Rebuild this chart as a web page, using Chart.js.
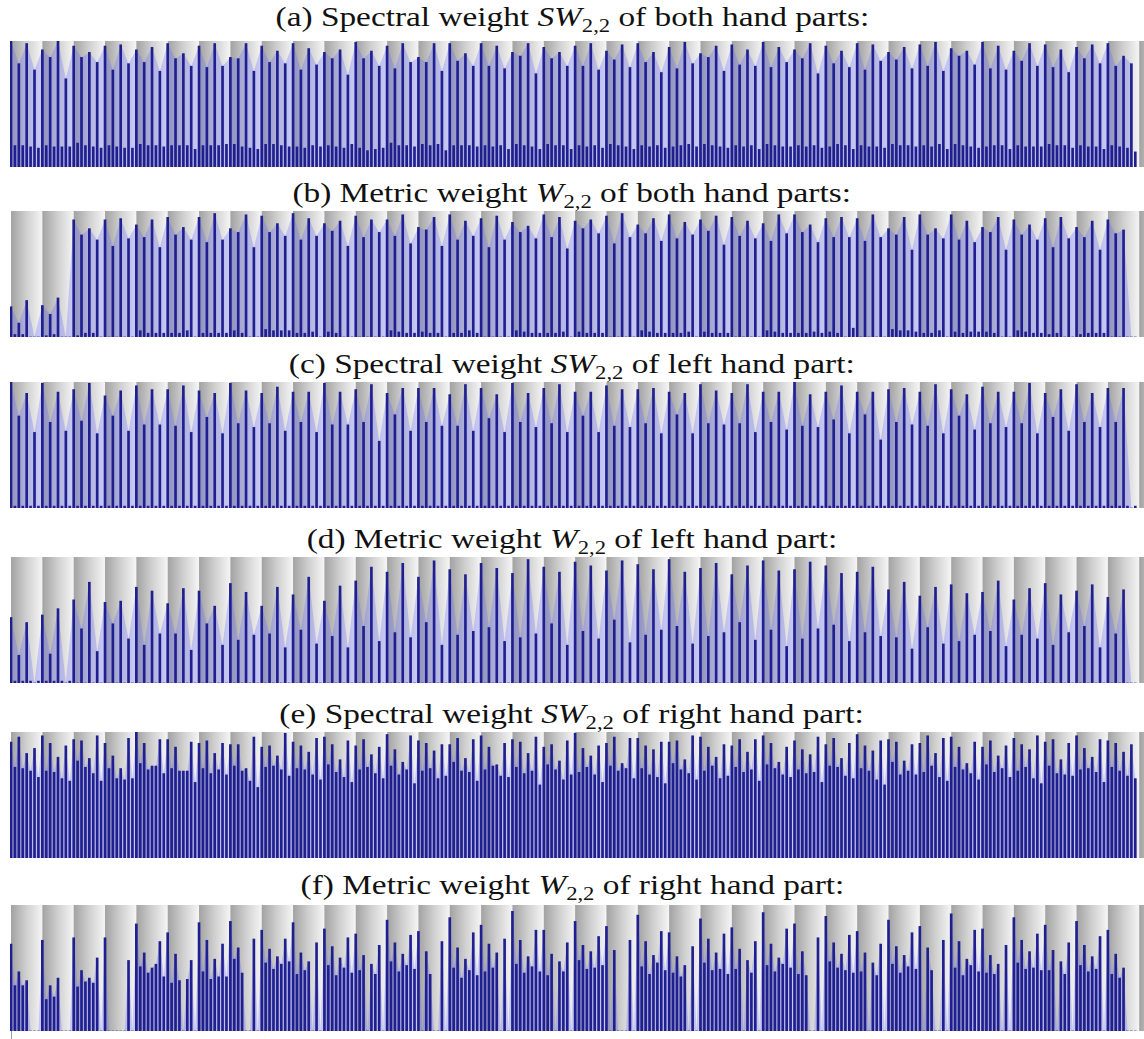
<!DOCTYPE html>
<html>
<head>
<meta charset="utf-8">
<script src="https://cdn.jsdelivr.net/npm/chart.js@4.4.0/dist/chart.umd.min.js"></script>
<style>
  body { margin: 0; background: #fff; width: 1144px; height: 1039px; position: relative; overflow: hidden; }
  .title { position: absolute; left: 0; width: 1144px; text-align: center; font-family: 'Liberation Serif', serif;
           font-size: 28px; line-height: 30px; color: #111; white-space: nowrap; }
  .title span { display: inline-block; transform: scaleX(1.19); transform-origin: 50% 50%; }
  .title sub { font-size: 19px; vertical-align: -6px; line-height: 0; }
  .plot { position: absolute; left: 10px; width: 1134px; height: 126px; }
</style>
</head>
<body>
<div class="title" style="top:2px"><span>(a) Spectral weight <i>SW</i><sub>2,2</sub> of both hand parts:</span></div>
<div class="plot" style="top:41px"><canvas id="pa" width="1134" height="126"></canvas></div>
<div class="title" style="top:178px"><span>(b) Metric weight <i>W</i><sub>2,2</sub> of both hand parts:</span></div>
<div class="plot" style="top:211px"><canvas id="pb" width="1134" height="126"></canvas></div>
<div class="title" style="top:349px"><span>(c) Spectral weight <i>SW</i><sub>2,2</sub> of left hand part:</span></div>
<div class="plot" style="top:382px"><canvas id="pc" width="1134" height="126"></canvas></div>
<div class="title" style="top:524px"><span>(d) Metric weight <i>W</i><sub>2,2</sub> of left hand part:</span></div>
<div class="plot" style="top:557px"><canvas id="pd" width="1134" height="126"></canvas></div>
<div class="title" style="top:699px"><span>(e) Spectral weight <i>SW</i><sub>2,2</sub> of right hand part:</span></div>
<div class="plot" style="top:732px"><canvas id="pe" width="1134" height="126"></canvas></div>
<div class="title" style="top:870px"><span>(f) Metric weight <i>W</i><sub>2,2</sub> of right hand part:</span></div>
<div class="plot" style="top:905px; height:134px"><canvas id="pf" width="1134" height="134"></canvas></div>

<script>
// Weights per eighth-note onset, eight onsets per bar (percent of panel maximum).
const bothSpectral = [
  100,17,82,17,98,16,77,15,  93,17,87,16,100,16,70,16,  96,19,87,17,91,16,83,15,  96,17,77,16,97,15,82,15,
  93,18,83,17,95,17,76,16,   98,17,86,17,90,17,80,14,   96,17,79,17,98,17,80,18,  87,18,86,16,98,15,76,14,
  96,18,83,18,92,17,82,16,   98,16,77,15,94,17,81,16,   91,17,86,16,93,15,73,18,  99,15,86,13,92,14,80,15,
  96,19,78,17,98,17,83,16,   87,18,83,17,98,18,76,13,   98,17,84,17,90,17,80,16,  98,17,80,16,96,17,78,14,
  91,18,88,17,98,16,74,14,   95,18,86,17,91,17,80,14,   96,17,80,16,98,17,77,15,  92,18,85,17,97,16,79,14,
  98,17,83,16,91,17,75,15,   95,16,78,17,99,18,82,16,   90,18,87,17,96,16,76,15,  97,17,81,16,93,17,80,14,
  99,18,79,17,95,16,83,16,   93,17,86,16,98,17,74,15,   96,16,82,18,92,17,79,14,  98,17,77,16,97,16,84,15,
  91,18,85,17,95,17,78,16,   97,17,80,16,99,18,76,14,   94,18,88,17,92,16,81,15,  99,16,78,17,96,17,77,14,
  92,17,84,16,98,16,80,16,   97,18,79,17,93,17,75,15,   95,17,86,16,97,16,82,14,  98,17,80,16,88,15,82,12
];
const bothMetric = [
  24,2,11,2,29,0,0,0,  25,1,18,2,31,0,0,0,  93,1,81,3,86,3,77,0,  93,0,72,0,94,0,78,0,
  89,5,79,3,93,3,71,3, 95,3,81,3,87,5,77,0, 95,3,75,3,98,3,77,3,  86,5,83,3,97,0,71,0,
  96,6,83,5,90,5,80,5, 98,3,77,3,94,4,80,0, 90,4,84,3,92,0,72,0,  96,0,79,0,93,0,83,0,
  93,5,80,4,97,3,74,3, 87,4,85,3,95,3,72,0, 97,3,77,3,92,5,80,3,  94,0,71,0,96,0,77,0,
  91,5,83,4,88,3,78,3, 97,3,79,3,95,4,70,0, 92,4,86,3,93,3,82,3,  96,0,74,0,98,0,79,0,
  89,5,82,4,94,3,76,3, 97,3,78,3,91,4,81,0, 93,4,84,3,96,3,73,3,  95,0,80,0,92,0,78,0,
  90,5,76,4,97,3,82,3, 97,3,83,3,89,4,75,3, 94,4,79,3,95,0,79,7,  94,0,76,0,97,0,79,0,
  86,6,81,5,95,5,69,4, 97,3,81,3,86,5,78,0, 97,4,77,3,92,4,75,4,  87,4,83,3,95,0,69,0,
  93,5,81,4,89,3,77,3, 94,2,71,3,95,0,78,0, 87,2,79,3,92,3,69,3,  93,0,82,0,85,0,0,0
];
const leftSpectral = [
  100,1.5,73,1.5,91,1.5,60,1.5,  99,1.5,68,1.5,92,1.5,61,1.5,  94,1.5,69,1.5,99,1.5,59,1.5,  89,1.5,73,1.5,93,1.5,61,1.5,
  97,1.5,66,1.5,94,1.5,66,1.5,   94,1.5,65,1.5,97,1.5,60,1.5,  93,1.5,72,1.5,91,1.5,59,1.5,  99,1.5,67,1.5,93,1.5,64,1.5,
  91,1.5,67,1.5,96,1.5,61,1.5,   92,1.5,68,1.5,92,1.5,60,1.5,  99,1.5,66,1.5,92,1.5,66,1.5,  94,1.5,68,1.5,98,1.5,53,1.5,
  91,1.5,74,1.5,95,1.5,61,1.5,   95,1.5,68,1.5,95,1.5,65,1.5,  90,1.5,65,1.5,98,1.5,61,1.5,  95,1.5,71,1.5,90,1.5,60,1.5,
  99,1.5,68,1.5,91,1.5,64,1.5,   95,1.5,67,1.5,98,1.5,60,1.5,  92,1.5,73,1.5,92,1.5,60,1.5,  97,1.5,65,1.5,94,1.5,64,1.5,
  94,1.5,67,1.5,95,1.5,59,1.5,   92,1.5,74,1.5,91,1.5,59,1.5,  98,1.5,67,1.5,93,1.5,66,1.5,  91,1.5,67,1.5,98,1.5,60,1.5,
  92,1.5,68,1.5,92,1.5,62,1.5,   100,1.5,65,1.5,90,1.5,64,1.5, 92,1.5,70,1.5,97,1.5,59,1.5,  92,1.5,74,1.5,92,1.5,54,1.5,
  94,1.5,68,1.5,95,1.5,66,1.5,   92,1.5,65,1.5,98,1.5,59,1.5,  94,1.5,73,1.5,90,1.5,62,1.5,  96,1.5,67,1.5,92,1.5,64,1.5,
  92,1.5,67,1.5,99,1.5,59,1.5,   91,1.5,72,1.5,94,1.5,61,1.5,  98,1.5,68,1.5,91,1.5,64,1.5,  95,1.5,68,1.5,95,1.5,0,1.5
];
const leftMetric = [
  52,1.5,22,1.5,48,1.5,0,1.5,  54,1.5,23,1.5,59,1.5,0,1.5,  66,0,43,0,80,0,25,0,  64,0,47,0,65,0,35,0,
  76,0,30,0,73,0,39,0,  63,0,39,0,75,0,26,0,  73,0,47,0,61,0,30,0,  79,0,34,0,72,0,38,0,
  61,0,39,0,76,0,28,0,  70,0,42,0,84,0,31,0,  65,0,37,0,77,0,28,0,  81,0,45,0,92,0,33,0,
  88,0,40,0,95,0,36,0,  84,0,48,0,97,0,30,0,  90,0,38,0,86,0,41,0,  95,0,44,0,91,0,33,0,
  87,0,36,0,98,0,39,0,  92,0,47,0,88,0,30,0,  96,0,41,0,93,0,35,0,  89,0,50,0,97,0,32,0,
  94,0,38,0,90,0,42,0,  98,0,45,0,88,0,31,0,  91,0,37,0,95,0,40,0,  86,0,48,0,93,0,34,0,
  97,0,42,0,89,0,29,0,  90,0,35,0,96,0,43,0,  93,0,46,0,87,0,33,0,  88,0,40,0,92,0,37,0,
  74,0,36,0,80,0,27,0,  69,0,44,0,76,0,31,0,  78,0,33,0,71,0,38,0,  72,0,41,0,81,0,29,0,
  66,0,38,0,75,0,35,0,  79,0,30,0,70,0,40,0,  73,0,45,0,78,0,28,0,  68,0,39,0,74,0,0,0
];
const rightSpectral = [
  92,72,96,71,83,69,87,64,  97,69,91,68,80,63,89,61,  94,77,93,72,79,67,97,61,  91,71,81,63,71,62,95,63,
  100,75,91,70,73,73,94,67, 94,71,88,69,69,69,92,60,  91,71,93,67,83,70,91,66,  90,73,90,69,71,61,96,56,
  88,72,89,73,81,70,99,65,  92,71,89,70,84,66,95,62,  96,74,90,68,78,64,93,60,  89,70,94,72,82,67,88,63,
  98,73,86,66,76,70,97,59,  93,69,91,71,85,63,90,65,  90,76,95,69,79,68,94,61,  97,70,88,73,74,65,91,64,
  94,72,92,67,83,69,96,58,  88,74,90,70,77,62,93,66,  99,68,87,72,81,66,89,60,  91,73,96,69,75,71,95,63,
  95,71,89,66,86,64,92,59,  92,75,93,70,78,67,97,62,  96,69,88,73,80,63,90,65,  89,72,94,68,84,70,94,61,
  97,74,91,71,76,66,88,64,  93,70,86,67,82,68,96,60,  90,73,95,72,79,65,91,63,  98,71,89,69,85,62,93,58,
  94,76,92,66,77,69,90,66,  91,68,97,73,83,64,95,61,  96,72,88,70,75,67,92,62,  88,74,93,68,81,71,89,64,
  95,69,90,72,86,63,97,59,  92,73,94,67,78,66,91,65,  97,70,87,71,80,68,94,60,  93,72,91,69,84,65,90,63
];
const rightMetric = [
  69,36,47,36,40,0,0,0,     72,25,36,27,42,0,0,0,     74,35,48,39,42,38,58,0,   74,0,0,0,0,0,56,0,
  85,51,62,46,50,53,71,43,  78,38,61,40,0,41,56,0,    86,47,72,41,57,43,69,43,  87,57,66,46,0,0,73,0,
  80,54,65,49,59,53,73,55,  86,45,62,48,55,0,70,0,    81,52,67,44,58,50,74,46,  77,48,60,0,53,45,68,0,
  88,55,70,47,61,52,76,49,  79,0,63,45,0,0,71,0,      90,50,66,42,57,48,78,44,  84,47,69,50,62,0,73,0,
  95,53,72,46,59,51,80,47,  80,44,61,0,55,47,70,0,    87,56,68,49,63,50,75,52,  83,0,64,0,0,0,72,0,
  92,51,71,45,60,54,79,48,  78,46,59,43,52,0,67,0,    89,54,73,48,62,49,77,45,  82,49,65,0,56,46,71,0,
  94,52,69,47,58,53,81,50,  85,45,63,44,0,0,74,0,     91,55,70,50,61,48,76,46,  79,47,62,0,54,44,69,0,
  88,53,67,46,60,51,78,49,  83,0,66,48,0,0,72,0,      93,50,71,44,57,52,80,47,  81,46,60,45,53,0,68,0,
  90,54,72,49,63,50,77,48,  84,48,64,0,55,45,70,0,    87,52,68,47,59,49,75,0,   80,45,61,42,50,0,0,0
];

const BAR_COUNT = 37;          // bars shaded along the time axis (last one clipped)
const ONSETS_PER_BAR = 8;

// Shaded bar backgrounds: grey on the downbeat fading to white at the bar line.
const barShading = {
  id: 'barShading',
  beforeDatasetsDraw(chart) {
    const { ctx, chartArea: a, scales: { x } } = chart;
    ctx.save();
    for (let b = 0; b < BAR_COUNT; b++) {
      const x0 = x.getPixelForValue(b * ONSETS_PER_BAR);
      const x1 = x.getPixelForValue((b + 1) * ONSETS_PER_BAR);
      const g = ctx.createLinearGradient(x0, 0, x1, 0);
      g.addColorStop(0, '#a2a2a2');
      g.addColorStop(0.5, '#d0d0d0');
      g.addColorStop(1, '#f5f5f5');
      ctx.fillStyle = g;
      ctx.fillRect(x0, a.top, x1 - x0, a.bottom - a.top);
    }
    ctx.restore();
  }
};

// Short grey mark below the time origin of the last panel.
const originMark = {
  id: 'originMark',
  afterDraw(chart) {
    const { ctx, chartArea: a, scales: { x } } = chart;
    const px = Math.round(x.getPixelForValue(0)) + 0.5;
    ctx.save();
    ctx.strokeStyle = '#9a9a9a';
    ctx.lineWidth = 1;
    ctx.beginPath();
    ctx.moveTo(px, a.bottom);
    ctx.lineTo(px, chart.height);
    ctx.stroke();
    ctx.restore();
  }
};

function drawPanel(id, weights, envelopeStep, extraPlugins = [], bottomPad = 0) {
  const stems = weights.map((v, i) => ({ x: i, y: v }));
  const envelope = [];
  weights.forEach((v, i) => { if (i % envelopeStep === 0) envelope.push({ x: i, y: v }); });
  new Chart(document.getElementById(id), {
    data: {
      datasets: [
        { type: 'line', data: envelope, fill: 'origin', backgroundColor: 'rgba(105,105,255,0.30)',
          borderWidth: 0, pointRadius: 0, tension: 0, order: 2 },
        { type: 'bar', data: stems, backgroundColor: '#1f1f8f', barThickness: 2, order: 1 }
      ]
    },
    options: {
      responsive: false, animation: false, events: [],
      layout: { padding: { bottom: bottomPad } },
      plugins: { legend: { display: false }, tooltip: { enabled: false }, title: { display: false } },
      scales: {
        x: { type: 'linear', min: -0.255, max: 289.22, display: false, offset: false },
        y: { min: 0, max: 100, display: false }
      }
    },
    plugins: [barShading, ...extraPlugins]
  });
}

drawPanel('pa', bothSpectral, 2);
drawPanel('pb', bothMetric, 2);
drawPanel('pc', leftSpectral, 2);
drawPanel('pd', leftMetric, 2);
drawPanel('pe', rightSpectral, 1);
drawPanel('pf', rightMetric, 1, [originMark], 8);
</script>
</body>
</html>
